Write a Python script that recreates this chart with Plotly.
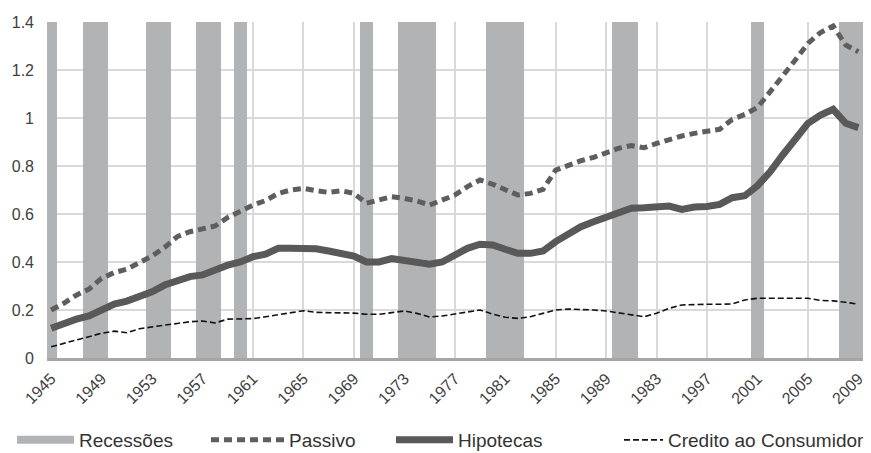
import plotly.graph_objects as go

anos = list(range(1945, 2010))

passivo = [0.200, 0.228, 0.262, 0.287, 0.332, 0.356, 0.370, 0.397, 0.425, 0.461,
           0.506, 0.526, 0.536, 0.550, 0.586, 0.613, 0.637, 0.656, 0.686, 0.700,
           0.707, 0.697, 0.690, 0.697, 0.686, 0.645, 0.658, 0.672, 0.665, 0.654,
           0.637, 0.656, 0.679, 0.714, 0.742, 0.724, 0.700, 0.679, 0.686, 0.703,
           0.783, 0.804, 0.822, 0.836, 0.855, 0.874, 0.885, 0.876, 0.894, 0.911,
           0.925, 0.936, 0.943, 0.953, 0.994, 1.015, 1.044, 1.106, 1.175, 1.242,
           1.311, 1.356, 1.383, 1.304, 1.276]

hipotecas = [0.124, 0.144, 0.162, 0.175, 0.200, 0.225, 0.237, 0.255, 0.276, 0.304,
             0.325, 0.339, 0.346, 0.370, 0.387, 0.400, 0.422, 0.433, 0.457, 0.457,
             0.457, 0.455, 0.446, 0.436, 0.425, 0.400, 0.400, 0.414, 0.407, 0.403,
             0.391, 0.400, 0.429, 0.457, 0.474, 0.471, 0.453, 0.436, 0.436, 0.446,
             0.485, 0.519, 0.547, 0.568, 0.587, 0.604, 0.624, 0.626, 0.633, 0.633,
             0.619, 0.629, 0.631, 0.640, 0.668, 0.676, 0.718, 0.776, 0.846, 0.908,
             0.978, 1.012, 1.036, 0.978, 0.960]

credito = [0.047, 0.061, 0.078, 0.089, 0.103, 0.112, 0.105, 0.122, 0.131, 0.137,
           0.144, 0.151, 0.154, 0.146, 0.162, 0.162, 0.164, 0.172, 0.181, 0.189,
           0.197, 0.190, 0.189, 0.189, 0.187, 0.182, 0.182, 0.189, 0.196, 0.186,
           0.171, 0.175, 0.183, 0.192, 0.200, 0.183, 0.170, 0.165, 0.172, 0.186,
           0.200, 0.204, 0.203, 0.200, 0.196, 0.189, 0.182, 0.172, 0.186, 0.207,
           0.221, 0.224, 0.224, 0.224, 0.225, 0.242, 0.249, 0.249, 0.249, 0.249,
           0.249, 0.240, 0.238, 0.232, 0.224]

anos_recessao = [1945, 1948, 1949, 1953, 1954, 1957, 1958, 1960, 1970, 1973,
                 1974, 1975, 1980, 1981, 1982, 1990, 1991, 2001, 2008, 2009]
altura_recessao = [1.4] * len(anos_recessao)

tick_anos = list(range(1945, 2010, 4))
tick_textos = ["1945", "1949", "1953", "1957", "1961", "1965", "1969", "1973",
               "1977", "1981", "1985", "1989", "1983", "1997", "2001", "2005", "2009"]

y_ticks = [0, 0.2, 0.4, 0.6, 0.8, 1.0, 1.2, 1.4]
y_textos = ["0", "0.2", "0.4", "0.6", "0.8", "1", "1.2", "1.4"]

GRAY_BAR = "#b1b3b5"
DARK = "#595959"

fig = go.Figure()

fig.add_trace(go.Bar(
    x=anos_recessao, y=altura_recessao, width=1.0,
    marker=dict(color=GRAY_BAR, line=dict(width=0)),
    showlegend=False, hoverinfo="skip", name="Recessões"))

fig.add_trace(go.Scatter(
    x=[None], y=[None], mode="lines", name="Recessões",
    line=dict(color=GRAY_BAR, width=8), legend="legend"))

fig.add_trace(go.Scatter(
    x=anos, y=passivo, mode="lines", name="Passivo",
    line=dict(color="#5e5e5e", width=5, dash="8px,5px"), legend="legend2"))

fig.add_trace(go.Scatter(
    x=anos, y=hipotecas, mode="lines", name="Hipotecas",
    line=dict(color=DARK, width=7), legend="legend3"))

fig.add_trace(go.Scatter(
    x=anos, y=credito, mode="lines", name="Credito ao Consumidor",
    line=dict(color="#111111", width=1.6, dash="6px,3px"), legend="legend4"))

# page offset (default body margin) compensation
OFF = 8
WIN_W, WIN_H = 871, 453
W, H = WIN_W - OFF, WIN_H - OFF
# plot area in window pixels: left 47, top 22, right 871, bottom 358
ML, MT = 47 - OFF, 22 - OFF
MR = 0
MB = WIN_H - 358
pw = W - ML - MR
ph = H - MT - MB


def px_x(p):
    return (p - OFF - ML) / pw


leg_y = (358 - 440) / ph
legfont = dict(family="Liberation Sans, Arial, sans-serif", size=19, color="#333333")


def leg(xpx, iw):
    return dict(x=px_x(xpx), y=leg_y, xanchor="left", yanchor="middle",
                orientation="h", font=legfont, itemwidth=iw,
                bgcolor="rgba(0,0,0,0)", borderwidth=0)


fig.update_layout(
    width=W, height=H,
    margin=dict(l=ML, r=MR, t=MT, b=MB, autoexpand=False),
    paper_bgcolor="white", plot_bgcolor="white",
    bargap=0,
    font=dict(family="Liberation Sans, Arial, sans-serif", size=15, color="#404040"),
    legend=leg(12, 57),
    legend2=leg(206, 73),
    legend3=leg(391, 57),
    legend4=leg(619, 39),
    xaxis=dict(
        range=[1944.67, 2010.0],
        tickmode="array", tickvals=tick_anos, ticktext=tick_textos,
        tickangle=-45, showgrid=True, gridcolor="#d9d9d9", gridwidth=1.5,
        showline=True, linecolor="#a6a6a6", linewidth=3,
        zeroline=False, ticks="", ticklabelstandoff=2, automargin=False,
        tickfont=dict(size=16, color="#404040")),
    yaxis=dict(
        range=[0, 1.4], tickmode="array", tickvals=y_ticks, ticktext=y_textos,
        showgrid=True, gridcolor="#d9d9d9", gridwidth=1.5, automargin=False,
        zeroline=False, showline=False, ticks="", ticklabelstandoff=12,
        tickfont=dict(size=16, color="#404040")),
)

fig.write_html("out.html")
